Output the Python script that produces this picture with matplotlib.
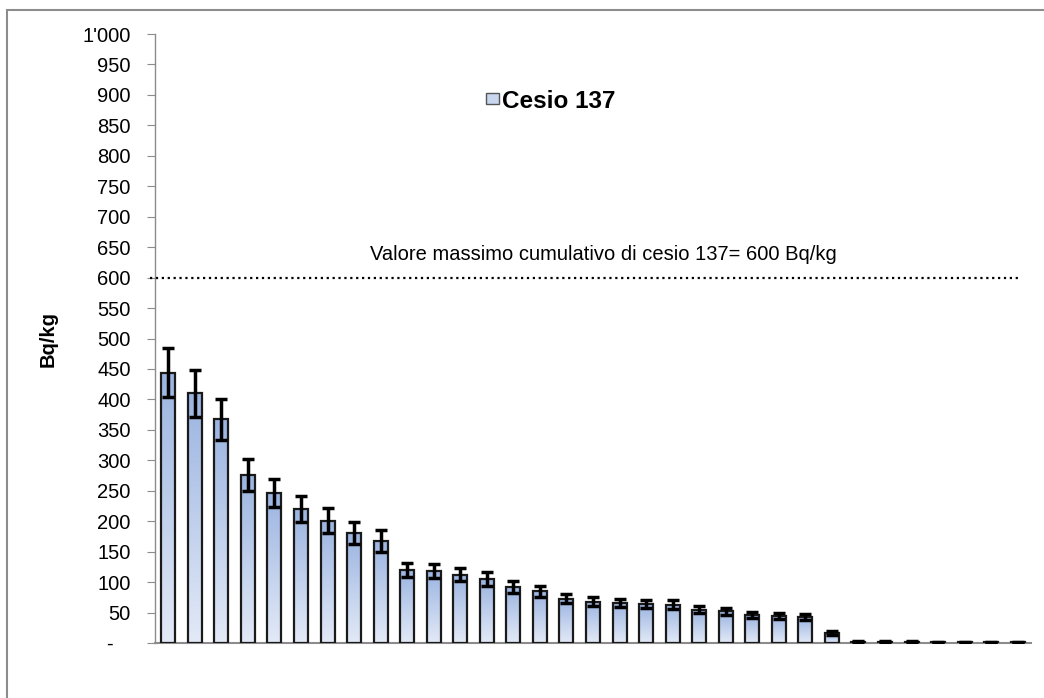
import matplotlib
matplotlib.use("Agg")
import matplotlib.pyplot as plt
import numpy as np
from matplotlib.patches import Patch, Rectangle
from matplotlib.colors import LinearSegmentedColormap
from matplotlib.ticker import FuncFormatter, MultipleLocator

plt.rcParams['font.family'] = ['Liberation Sans', 'DejaVu Sans']

values = [444, 410, 367, 276, 247, 220, 201, 180, 168, 120, 118, 112, 105, 92, 85,
          73, 68, 66, 64, 63, 55, 52, 46, 44, 42, 16, 2, 2, 2, 1, 1, 1, 1]
errors = [40, 39, 33, 26, 23, 22, 21, 18, 18, 12, 12, 11, 11, 10, 9,
          8, 7, 7, 7, 7, 6, 6, 5, 5, 5, 3, 1, 1, 1, 1, 1, 1, 1]
series_name = "Cesio 137"
limit_value = 600
limit_label = "Valore massimo cumulativo di cesio 137= 600 Bq/kg"
y_label = "Bq/kg"

W, H = 1044, 698
fig = plt.figure(figsize=(W/100, H/100), dpi=100)
ax = fig.add_axes([155/W, 1-643/H, (1031-155)/W, (643-34)/H])

# outer border
fig.patches.append(Rectangle((7/W, -0.05), 1.2, 1-10/H+0.05, transform=fig.transFigure,
                             fill=False, edgecolor='#8c8c8c', linewidth=1.5))

x = np.arange(len(values))
bars = ax.bar(x, values, width=0.53, facecolor='none', edgecolor='#1a1a1a',
              linewidth=1.6, zorder=3)
cmap = LinearSegmentedColormap.from_list('g', ['#e3eaf7', '#9bb4e1'])
grad = np.linspace(0, 1, 256).reshape(-1, 1)
for b in bars:
    bx, by = b.get_x(), b.get_y()
    bw, bh = b.get_width(), b.get_height()
    if bh <= 0:
        continue
    im = ax.imshow(grad, extent=(bx, bx+bw, by, by+bh), origin='lower', cmap=cmap,
                   aspect='auto', zorder=2)
    im.set_clip_path(b)
ax.errorbar(x, values, yerr=errors, fmt='none', ecolor='black', elinewidth=2.5,
            capsize=4, capthick=2.5, zorder=4)

ax.set_xlim(-0.5, len(values)-0.5)
ax.set_ylim(0, 1000)
ax.yaxis.set_major_locator(MultipleLocator(50))

def fmt(v, pos):
    if abs(v) < 1e-9:
        return '-   '
    iv = int(round(v))
    if iv >= 1000:
        return f"{iv//1000}'{iv%1000:03d}"
    return str(iv)
ax.yaxis.set_major_formatter(FuncFormatter(fmt))
ax.set_xticks([])
for s in ['top', 'right']:
    ax.spines[s].set_visible(False)
ax.spines['left'].set_color('#8c8c8c')
ax.spines['bottom'].set_color('#8c8c8c')
ax.spines['left'].set_linewidth(1.0)
ax.spines['bottom'].set_linewidth(1.5)
ax.tick_params(axis='y', direction='out', length=6, color='#8c8c8c', labelsize=14.5,
               pad=11.5)
ax.set_ylabel(y_label, fontsize=14.5, fontweight='bold', labelpad=18)

ax.plot([-0.69, 32.07], [limit_value, limit_value], ls=':', color='black', lw=1.6,
        clip_on=False, zorder=5)
ax.text(16.4, 638, limit_label, ha='center', va='center', fontsize=14.5)

h = Patch(facecolor='#c9d6ef', edgecolor='#555555', linewidth=1)
ax.legend([h], [series_name], loc='center left', bbox_to_anchor=(484/W, 1-101/H),
          bbox_transform=fig.transFigure, frameon=False,
          prop={'weight': 'bold', 'size': 17.5}, handlelength=0.5, handleheight=0.3,
          handletextpad=0.15, borderpad=0.1, borderaxespad=0)

fig.savefig('out.png', dpi=100)
